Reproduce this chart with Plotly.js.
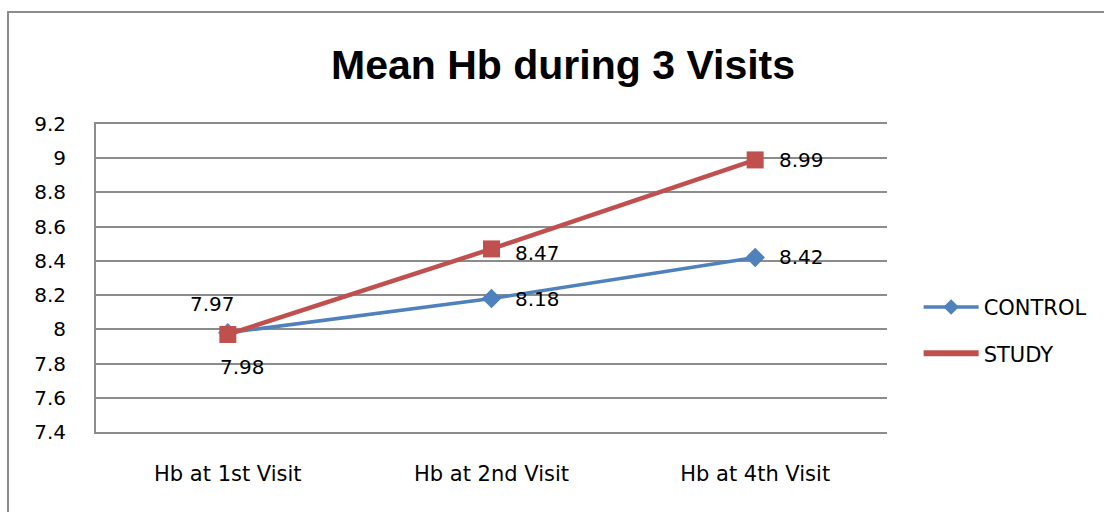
<!DOCTYPE html>
<html><head><meta charset="utf-8">
<script src="https://cdn.plot.ly/plotly-3.0.1.min.js"></script>
<style>
body{margin:0;padding:0;background:#fff;}
#frame{position:absolute;left:7px;top:11px;width:1200px;height:600px;border:2px solid #8c8c8c;pointer-events:none;}
#chart{width:1104px;height:512px;}
</style></head>
<body>
<div id="chart"></div>
<div id="frame"></div>
<script>
const categories = ["Hb at 1st Visit", "Hb at 2nd Visit", "Hb at 4th Visit"];
const controlValues = [7.98, 8.18, 8.42];
const studyValues = [7.97, 8.47, 8.99];
const yTicks = [7.4, 7.6, 7.8, 8, 8.2, 8.4, 8.6, 8.8, 9, 9.2];

const blue = "#4F81BD", red = "#C0504D";
const font = "DejaVu Sans, sans-serif";
const titleFont = "Liberation Sans, Arial, sans-serif";

const traces = [
  {x: categories, y: controlValues, type: "scatter", mode: "lines+markers", name: "CONTROL",
   showlegend: false, line: {color: blue, width: 3.5}, marker: {symbol: "diamond", size: 15, color: blue}},
  {x: categories, y: studyValues, type: "scatter", mode: "lines+markers", name: "STUDY",
   showlegend: false, line: {color: red, width: 4.5}, marker: {symbol: "square", size: 17, color: red}},
  {x: [null], y: [null], type: "scatter", mode: "lines+markers", name: "CONTROL", legendgroup: "c",
   line: {color: blue, width: 3.5}, marker: {symbol: "diamond", size: 12, color: blue}},
  {x: [null], y: [null], type: "scatter", mode: "lines", name: "STUDY", legendgroup: "s",
   line: {color: red, width: 6}}
];

// label placement per series/point (layout only)
const ctrlShift = [[15, -34], [46, 0], [46, 0]];
const studyShift = [[-15, 30], [46, -4], [46, 0]];
const annotations = [];
categories.forEach((c, i) => {
  annotations.push({x: c, y: controlValues[i], text: String(controlValues[i]), showarrow: false,
    xshift: ctrlShift[i][0], yshift: ctrlShift[i][1], font: {family: font, size: 20, color: "#000"}});
  annotations.push({x: c, y: studyValues[i], text: String(studyValues[i]), showarrow: false,
    xshift: studyShift[i][0], yshift: studyShift[i][1], font: {family: font, size: 20, color: "#000"}});
});

const layout = {
  width: 1104, height: 512,
  margin: {l: 96, r: 215, t: 124, b: 80},
  paper_bgcolor: "#fff", plot_bgcolor: "#fff",
  title: {text: "<b>Mean Hb during 3 Visits</b>", x: 0.51, xanchor: "center", y: 0.873, yanchor: "middle",
    font: {family: titleFont, size: 41, color: "#000"}},
  xaxis: {type: "category", showgrid: false, showline: true, mirror: true, linecolor: "#8c8c8c", linewidth: 2,
    ticks: "", ticklabelstandoff: 22, tickfont: {family: font, size: 21, color: "#000"}, range: [-0.5, 2.5], fixedrange: true},
  yaxis: {range: [7.4, 9.2], tickvals: yTicks, ticktext: yTicks.map(String), showgrid: true,
    gridcolor: "#8c8c8c", gridwidth: 2, showline: true, linecolor: "#8c8c8c", linewidth: 2,
    zeroline: false, ticks: "", ticklen: 0, ticklabelstandoff: 24, tickfont: {family: font, size: 20, color: "#000"}},
  showlegend: true,
  legend: {x: 1.04, y: 0.33, xanchor: "left", yanchor: "middle", font: {family: font, size: 21, color: "#000"},
    itemwidth: 55, tracegroupgap: 16, bgcolor: "rgba(0,0,0,0)"},
  annotations: annotations
};

Plotly.newPlot("chart", traces, layout, {staticPlot: true, displayModeBar: false});
</script>
</body></html>
